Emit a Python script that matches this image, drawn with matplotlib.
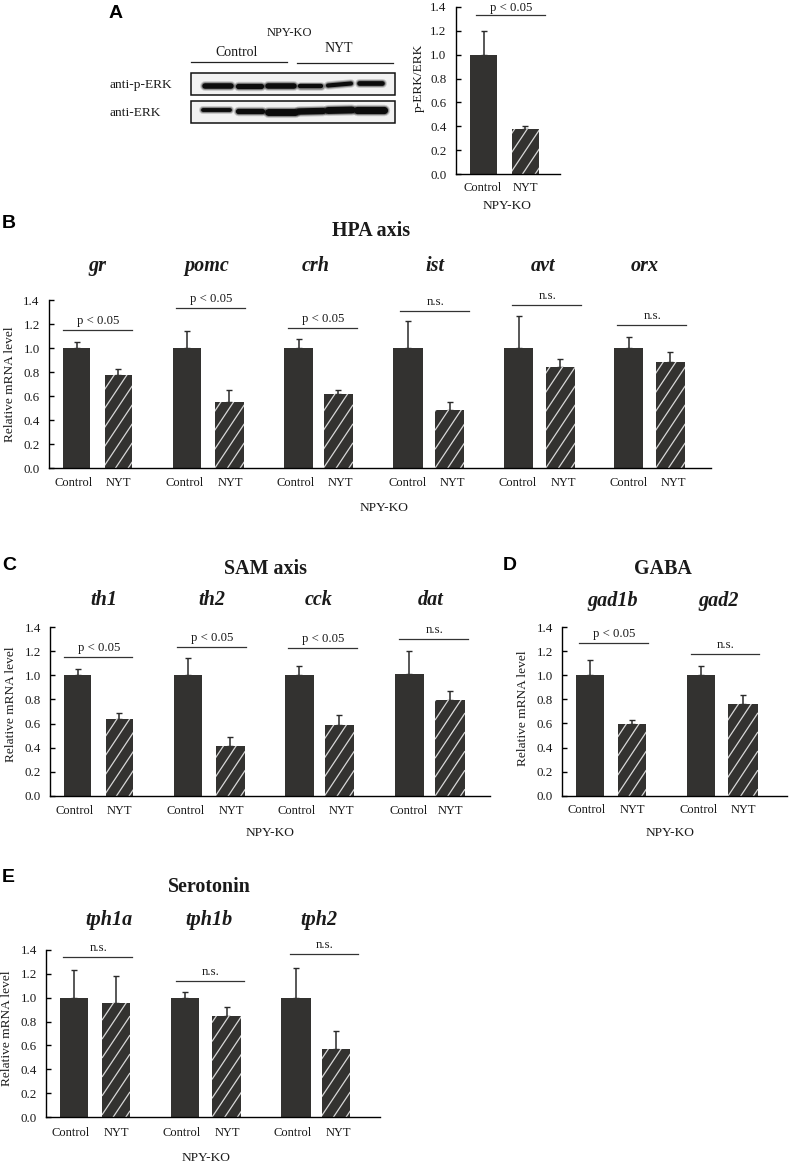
import matplotlib
matplotlib.use("Agg")
import matplotlib.pyplot as plt
from matplotlib.patches import Rectangle

W, H = 789, 1164
SERIF = "Liberation Serif"
DARK = "#333230"
HATCH = "#d8d8d8"

plt.rcParams["font.family"] = [SERIF, "DejaVu Sans"]

# values: [control, NYT], then the top of each error bar
a_means = [1.0, 0.375]
a_tops = [1.2, 0.405]

hpa_genes = ["gr", "pomc", "crh", "ist", "avt", "orx"]
hpa_means = [[1.0, 0.78], [1.0, 0.55], [1.0, 0.62], [1.0, 0.49], [1.005, 0.845], [1.005, 0.885]]
hpa_tops = [[1.05, 0.83], [1.145, 0.655], [1.075, 0.655], [1.23, 0.55], [1.27, 0.91], [1.095, 0.97]]
hpa_sig = ["p < 0.05", "p < 0.05", "p < 0.05", "n.s.", "n.s.", "n.s."]
hpa_sig_y = [1.155, 1.336, 1.169, 1.31, 1.364, 1.197]

sam_genes = ["th1", "th2", "cck", "dat"]
sam_means = [[1.0, 0.64], [1.0, 0.41], [1.0, 0.59], [1.01, 0.795]]
sam_tops = [[1.05, 0.685], [1.145, 0.485], [1.075, 0.675], [1.205, 0.87]]
sam_sig = ["p < 0.05", "p < 0.05", "p < 0.05", "n.s."]
sam_sig_y = [1.156, 1.237, 1.228, 1.306]

gaba_genes = ["gad1b", "gad2"]
gaba_means = [[1.0, 0.595], [1.0, 0.765]]
gaba_tops = [[1.125, 0.63], [1.075, 0.835]]
gaba_sig = ["p < 0.05", "n.s."]
gaba_sig_y = [1.27, 1.178]

sero_genes = ["tph1a", "tph1b", "tph2"]
sero_means = [[1.0, 0.955], [1.0, 0.85], [1.0, 0.57]]
sero_tops = [[1.23, 1.18], [1.05, 0.92], [1.245, 0.725]]
sero_sig = ["n.s.", "n.s.", "n.s."]
sero_sig_y = [1.338, 1.138, 1.367]

y_ticks = [0.0, 0.2, 0.4, 0.6, 0.8, 1.0, 1.2, 1.4]

fig = plt.figure(figsize=(W / 100, H / 100), dpi=100, facecolor="white")
page = fig.add_axes([0, 0, 1, 1], zorder=5)
page.set_xlim(0, W)
page.set_ylim(H, 0)
page.axis("off")
page.patch.set_alpha(0)


def txt(x, y, s, size=9, ha="center", **kw):
    page.text(x, y, s, fontsize=size, ha=ha, va="center", color="#1a1a1a", **kw)


def letter(x, y, s):
    page.text(x, y + 1, s, fontsize=14, ha="left", va="center", color="black",
              family="Liberation Sans", fontweight="bold")


def heading(x, y, s):
    txt(x, y + 1.5, s, size=14.4, fontweight="bold")


def make_axes(left, right, y0, y14):
    ax = fig.add_axes([left / W, 1 - y0 / H, (right - left) / W, (y0 - y14) / H])
    ax.set_xlim(left, right)
    ax.set_ylim(0, 1.4)
    ax.patch.set_alpha(0)
    for side in ("top", "right"):
        ax.spines[side].set_visible(False)
    for side in ("left", "bottom"):
        ax.spines[side].set_linewidth(1.0)
    ax.set_xticks([])
    ax.set_yticks(y_ticks)
    ax.set_yticklabels([f"{t:.1f}" for t in y_ticks], fontsize=9.4, color="#1a1a1a")
    ax.tick_params(axis="y", direction="in", length=3.5, width=1.0, pad=6.5)
    return ax


def hatch_bar(ax, rect, n0, n1, height):
    # sparse steep stripes, clipped to the bar
    y_per_px = 1.4 / 168
    step = 19 * y_per_px
    rise = (n1 - n0) * 1.5 * y_per_px
    start = -rise + 6 * y_per_px
    while start < height:
        line, = ax.plot([n0, n1], [start, start + rise], color=HATCH, lw=0.9, zorder=1.5)
        line.set_clip_path(rect)
        start += step


def draw_pair(ax, edges, means, tops):
    (c0, c1), (n0, n1) = edges
    ax.bar((c0 + c1) / 2, means[0], c1 - c0, color=DARK, edgecolor="none")
    bars = ax.bar((n0 + n1) / 2, means[1], n1 - n0, color=DARK, edgecolor="none")
    hatch_bar(ax, bars[0], n0, n1, means[1])
    for x, m, t in [((c0 + c1) / 2, means[0], tops[0]), ((n0 + n1) / 2, means[1], tops[1])]:
        ax.errorbar(x, m, yerr=[[0], [t - m]], color="#2a2a2a", elinewidth=1.1,
                    capsize=1.9, capthick=1.0, zorder=0.5)


def draw_panel(ax, bar_edges, means, tops, sig, sig_y, sig_spans, sig_gap=0.025):
    for edges, m, t, s, sy, span in zip(bar_edges, means, tops, sig, sig_y, sig_spans):
        draw_pair(ax, edges, m, t)
        ax.plot(span, [sy, sy], color="#333333", lw=0.9, clip_on=False)
        ax.text(sum(span) / 2 + 1, sy + sig_gap, s, fontsize=9.2, ha="center", va="bottom",
                color="#1a1a1a", clip_on=False)


def gene_labels(xs, y, names):
    for x, n in zip(xs, names):
        txt(x, y + 1, n, size=14.5, fontweight="bold", fontstyle="italic")


def group_labels(ctrl_xs, nyt_xs, y):
    for x in ctrl_xs:
        txt(x, y, "Control")
    for x in nyt_xs:
        txt(x, y, "NYT")


# panel A, blot
letter(109, 12, "A")
txt(289, 33, "NPY-KO")
txt(237, 52, "Control", size=10)
txt(339, 48, "NYT", size=10)
page.plot([191, 287], [62, 62], color="#222222", lw=0.9)
page.plot([297, 393], [63, 63], color="#222222", lw=0.9)
txt(110, 85, "anti-p-ERK", size=9.6, ha="left")
txt(110, 113, "anti-ERK", size=9.6, ha="left")

perk_bands = [(205, 231, 86, 86), (238, 261, 86, 86), (268, 294, 86, 86),
              (300, 321, 86, 86), (328, 351, 85.5, 83.5), (359, 382, 83, 83)]
perk_lw = [4.0, 3.8, 4.0, 3.2, 3.0, 3.4]
erk_bands = [(203, 230, 110, 110), (238, 262, 111, 111), (268, 295, 111.5, 111.5),
             (299, 323, 111.5, 111), (328, 352, 110.5, 110), (357, 384, 109.5, 109.5)]
erk_lw = [2.8, 3.8, 5.0, 4.6, 5.0, 5.2]
for (x0, y0), h in [((191, 73), 22), ((191, 101), 22)]:
    page.add_patch(Rectangle((x0, y0), 204, h, facecolor="#f2f2f2", edgecolor="#111111", lw=1.1))
for bands, widths in [(perk_bands, perk_lw), (erk_bands, erk_lw)]:
    for (x0, x1, y0, y1), lw in zip(bands, widths):
        for extra, alpha in [(3.0, 0.18), (1.5, 0.35), (0, 1.0)]:
            page.plot([x0, x1], [y0, y1], color="#0c0c0c", lw=lw + extra, alpha=alpha,
                      solid_capstyle="round")

# panel A, bars
ax_a = make_axes(455.5, 560, 174.3, 6.7)
draw_panel(ax_a, [((470, 497), (511.5, 539))], [a_means], [a_tops], ["p < 0.05"], [1.33], [(476, 545)],
           sig_gap=0.01)
group_labels([483], [525], 188)
txt(507, 206, "NPY-KO", size=9.6)
txt(419, 78, "p-ERK/ERK", size=9.6, rotation=90)

# panel B
letter(2, 222, "B")
heading(371, 229, "HPA axis")
gene_labels([97, 207, 316, 435, 543, 645], 265, hpa_genes)
ax_b = make_axes(48.7, 710.7, 468.3, 300.3)
draw_panel(ax_b,
           [((62.7, 90.3), (104.7, 132)), ((173, 201), (214.7, 244)), ((284, 313), (323.7, 352.7)),
            ((393.3, 422.7), (435.3, 464.3)), ((504, 533.3), (545.7, 575)), ((614.3, 643.3), (655.7, 685))],
           hpa_means, hpa_tops, hpa_sig, hpa_sig_y,
           [(63, 131.7), (176, 244.7), (288.3, 357), (400, 468.7), (512, 580.7), (617.3, 685.7)])
group_labels([73.3, 185, 295.3, 407.7, 518, 628.7], [118.7, 230.3, 340.7, 452.7, 563, 673.3], 483)
txt(384, 508, "NPY-KO", size=9.6)
txt(10, 384, "Relative mRNA level", size=9.6, rotation=90)

# panel C
letter(2, 564, "C")
heading(265.7, 567, "SAM axis")
gene_labels([104, 211.7, 318.7, 430.7], 599, sam_genes)
ax_c = make_axes(50, 490, 795.7, 627.3)
draw_panel(ax_c,
           [((64, 91.3), (105.7, 133.3)), ((174, 202.3), (215.7, 245)), ((284.7, 314.3), (325, 354)),
            ((395, 424), (435.3, 464.7))],
           sam_means, sam_tops, sam_sig, sam_sig_y,
           [(64, 132.3), (177, 245.7), (288.3, 357), (399.3, 467.7)])
group_labels([74.7, 186, 296.3, 408.3], [119.7, 231.3, 341.3, 450.3], 810.7)
txt(269.7, 833.5, "NPY-KO", size=9.6)
txt(10.7, 704, "Relative mRNA level", size=9.6, rotation=90)

# panel D
letter(503, 564, "D")
heading(663, 567, "GABA")
gene_labels([612.7, 718.3], 600, gaba_genes)
ax_d = make_axes(562, 786.7, 795.7, 627)
draw_panel(ax_d, [((576, 604), (618, 646)), ((686.7, 714.7), (728, 757.6))],
           gaba_means, gaba_tops, gaba_sig, gaba_sig_y, [(579.3, 647.7), (690.7, 759.3)])
group_labels([587, 698.3], [632.7, 743.7], 810.3)
txt(670, 833.5, "NPY-KO", size=9.6)
txt(522.7, 707.7, "Relative mRNA level", size=9.6, rotation=90)

# panel E
letter(2, 877, "E")
heading(209, 886, "Serotonin")
gene_labels([109, 209, 319], 919, sero_genes)
ax_e = make_axes(46, 380, 1117.3, 949.7)
draw_panel(ax_e, [((60.3, 88), (102.3, 129.7)), ((170.7, 198.7), (212.3, 241.3)), ((281.3, 310.7), (322, 350))],
           sero_means, sero_tops, sero_sig, sero_sig_y, [(63, 132), (175.7, 244), (289.7, 358)])
group_labels([71, 182, 293], [116, 227, 338], 1132.7)
txt(205.7, 1158, "NPY-KO", size=9.6)
txt(7.5, 1028, "Relative mRNA level", size=9.6, rotation=90)

fig.savefig("out.png", dpi=100)
